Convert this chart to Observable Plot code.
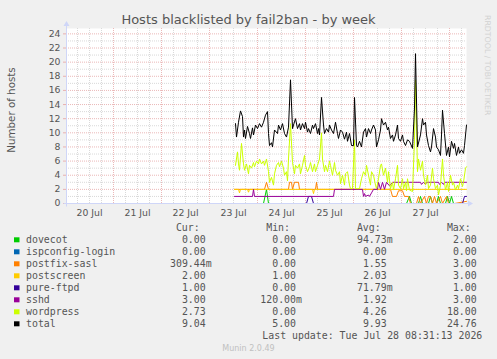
<!DOCTYPE html>
<html><head><meta charset="utf-8">
<script src="https://cdn.jsdelivr.net/npm/d3@7"></script>
<script src="https://cdn.jsdelivr.net/npm/@observablehq/plot@0.6"></script>
<style>
html,body{margin:0;padding:0;background:#f0f0f0;}
#wrap{position:relative;width:497px;height:359px;background:#f0f0f0;overflow:hidden;}
#wrap svg{position:absolute;left:0;top:0;}
g[aria-label="y-axis tick"]{color:#e8b0b0;}
</style></head>
<body><div id="wrap"></div>
<script>
const chartTitle = "Hosts blacklisted by fail2ban - by week";
const yLabel = "Number of hosts";
const sideText = "RRDTOOL / TOBI OETIKER";
const lastUpdate = "Last update: Tue Jul 28 08:31:13 2026";
const versionText = "Munin 2.0.49";

const xDomain = [new Date("2026-07-20T00:30:00Z"), new Date("2026-07-28T08:30:00Z")];
const yMax = 24.76;
const dataOrigin = new Date("2026-07-23T12:30:00Z"); // hour offsets below are relative to this
const xTickDays = ["2026-07-20T12:00:00Z","2026-07-21T12:00:00Z","2026-07-22T12:00:00Z","2026-07-23T12:00:00Z","2026-07-24T12:00:00Z","2026-07-25T12:00:00Z","2026-07-26T12:00:00Z","2026-07-27T12:00:00Z"];
const xTickLabels = ["20 Jul","21 Jul","22 Jul","23 Jul","24 Jul","25 Jul","26 Jul","27 Jul"];
const yTicks = [0,2,4,6,8,10,12,14,16,18,20,22,24];

const seriesNames = ["dovecot","ispconfig-login","postfix-sasl","postscreen","pure-ftpd","sshd","wordpress","total"];
const seriesColors = ["#00cc00","#0066b3","#ff8000","#ffcc00","#330099","#990099","#ccff00","#000000"];
const legendCur = ["0.00","0.00","309.44m","2.00","1.00","3.00","2.73","9.04"];
const legendMin = ["0.00","0.00","0.00","1.00","0.00","120.00m","0.00","5.00"];
const legendAvg = ["94.73m","0.00","1.55","2.03","71.79m","1.92","4.26","9.93"];
const legendMax = ["2.00","0.00","3.00","3.00","1.00","3.00","18.00","24.76"];
const legendHeads = ["Cur:","Min:","Avg:","Max:"];

// [hours after dataOrigin, value]
const dovecot = [[0,0],[14.5,0],[16,2],[17,0],[86,0],[87.5,1],[88.5,0],[92,0],[93,1],[94,0],[97,0],[98,1],[99,0],[101,0],[102,1],[103,0],[105.5,0],[106.5,1],[107.5,0],[108.5,1],[109.5,0],[116,0]];
const ispconfigLogin = [[0,0],[116,0]];
const postfixSasl = [[0,2],[15,2],[16,3],[17,2],[27,2],[27.5,3],[28.5,3],[29,2],[30,3],[32,3],[32.5,2],[40.5,2],[41,3],[41.5,2],[78,2],[79,1],[81,1],[82,1.8],[84,1.8],[85,1],[87,1],[88,0],[91,0],[92,1],[93,0],[95,1],[96,0],[97,1],[98,1],[99,0],[100,1],[101,0],[103,1],[104,0],[106,1],[107,0],[110,0],[116,0.3]];
const postscreen = [[0,2],[2,2],[2.5,1.5],[3,2],[6.5,2],[7,1.6],[7.5,2],[39,2],[39.5,1.4],[40,2],[116,2]];
const pureFtpd = [[0,0],[36,0],[37,1],[38.5,1],[39.5,0],[114,0],[115,1],[116,1]];
const sshd = [[0,1],[9,1],[9.5,2],[10,1],[49.5,1],[50,2],[64,2],[64.5,1],[65,1.4],[65.5,1],[67,1.2],[67.5,1],[68.5,1.5],[69.5,2],[71.5,2],[72,3],[73,2],[74,3],[75,2],[76,3],[77.5,2.5],[79,3],[93,3],[93.5,2.7],[94.5,3],[95.5,2.7],[96,3],[102,3],[102.5,2.7],[103.5,3],[104.5,2.7],[105,3],[116,3]];
const wordpress = [[0.5,5.4],[1.5,7.3],[2,5.6],[2.5,4.7],[3.5,8.5],[4.5,5.6],[5,4.7],[6,5.6],[7,4.2],[7.5,5.4],[8.5,5.0],[9.5,5.8],[10,5.2],[11,6.0],[12,5.6],[12.5,6.3],[13.5,5.6],[14.5,6.0],[15,5.4],[16,6.3],[17,4.5],[17.5,3.0],[18.5,3.7],[19.5,2.6],[20,4.2],[21,5.4],[22,5.8],[22.5,5.2],[23.5,6.0],[24.5,5.0],[25,4.0],[26,4.5],[26.5,3.2],[27,6.3],[28,11.3],[29,5.8],[30,4.2],[30.5,5.4],[31.5,5.0],[32.5,5.6],[33,4.2],[34,5.4],[35,6.8],[35.5,5.4],[36.5,4.5],[37.5,5.2],[38,5.8],[39,4.5],[40,5.6],[40.5,4.5],[41.5,5.4],[42.5,6.3],[43.5,10],[44,6.3],[45,4.5],[45.5,5.4],[46.5,4.5],[47.5,6.0],[48,5.4],[49,4.0],[50,5.8],[50.5,4.7],[51.5,4.0],[52.5,4.5],[53,2.8],[54,4.0],[55,2.6],[55.5,4.2],[56.5,4.5],[57.5,2.6],[58,2.1],[59,2.1],[60,9],[60.5,2.1],[61.5,2.1],[62.5,2.1],[63.5,3.5],[64.5,4.5],[65.5,4.0],[66,5.4],[67,4.0],[68,2.6],[68.5,4.5],[69.5,4.0],[70.5,2.6],[71,2.1],[72,3.5],[73,5.4],[73.5,5.6],[74.5,4.0],[75.5,5.0],[76.5,3.0],[77,4.5],[78,2.1],[79,3.0],[79.5,1.9],[80.5,3.5],[81.5,5.4],[82,2.6],[83,2.1],[84,3.5],[84.5,2.1],[85.5,3.0],[86,1.8],[86.5,3.5],[87.5,1.9],[89,1.7],[90,9],[90.5,17.5],[91.5,4.5],[92,6.3],[93,4.7],[94,6.0],[94.5,4.0],[95.5,2.6],[96.5,4.0],[97,2.1],[98,2.6],[99,5.0],[99.5,3.5],[100.5,2.1],[101.5,2.6],[102,1.2],[103,2.6],[104,6.3],[104.5,4.0],[105.5,1.9],[106.5,3.0],[107,1.7],[108,4.0],[109,2.6],[109.5,3.0],[110.5,1.9],[111.5,2.6],[112,2.1],[113,3.5],[114,2.4],[114.5,3.0],[115.5,5.0],[116,5.2]];
const total = [[0.5,11.3],[1,9.4],[2,11.5],[3,13.1],[4,12.3],[4.5,9.4],[5,10.4],[5.5,9.2],[6.5,10.9],[7.5,9.9],[8,9.2],[9,10.7],[9.5,9.7],[10.5,11.1],[11.5,10.6],[12.5,11.3],[13.5,10.8],[14.5,11.5],[15.5,12.5],[16.5,13],[17,9.9],[17.5,8.2],[18.5,8.6],[19,8],[20,10.4],[21.5,9.9],[22,11.1],[23,10.4],[24,11.3],[25,9.9],[26,9.4],[27,10.8],[28,17.5],[29,10.6],[29.5,11.1],[30.5,12],[31.5,10.6],[32.5,11.3],[33,10.4],[34,11.3],[35,10.6],[35.5,11.5],[36.5,10.1],[37,10.6],[38,9.9],[39,11.1],[39.5,10.6],[40.5,11.3],[41.5,9.9],[42,10.6],[42.5,9.7],[43.5,15],[44.5,11.1],[45,9.9],[46,10.6],[47,10.1],[47.5,11.1],[48.5,10.4],[49.5,9.9],[50.5,11.5],[51.5,9.9],[52,9.2],[53,10.4],[54,10.1],[55,9.1],[56,10.1],[56.5,8.8],[57.5,9.9],[58.5,8.2],[59.5,8.2],[60,15],[61,8.2],[61.5,8],[62.5,8.8],[63.5,8],[64.5,10.1],[65.5,10.6],[66,9.4],[67,10.6],[68,9.9],[68.5,10.4],[69.5,11.1],[70.5,10.4],[71,8],[72,9],[73,10.4],[73.5,12],[74.5,11.1],[75.5,11.5],[76.5,10.4],[77,10.8],[78,9.2],[79,9.7],[79.5,8.8],[80.5,9.7],[81.5,11.1],[82,9.2],[83,8.8],[84,9.7],[84.5,8.8],[85.5,8.2],[86.5,9],[87.5,8.8],[89,7.8],[90,13.5],[90.5,21.2],[91.5,8],[93,9.7],[94,12],[94.5,11.1],[95.5,11.5],[96,9.7],[97,8.2],[98,7.3],[98.5,8],[99.5,10.6],[100.5,9.4],[101,8],[102,7.6],[103,6.8],[103.5,9.7],[104,13.2],[105,9.9],[106,6.8],[107,8],[107.5,6.6],[108.5,8.8],[109.5,7.8],[110,8.5],[111,6.8],[112,8],[112.5,7.1],[113.5,7.6],[114.5,7.1],[115,8.2],[116,11.1]];

const seriesData = [dovecot, ispconfigLogin, postfixSasl, postscreen, pureFtpd, sshd, wordpress, total];

const toRows = (pairs) => pairs.map(([h, v]) => ({time: new Date(+dataOrigin + h * 3600e3), value: v}));
const xTicks = xTickDays.map(d => new Date(d));
const majorX = d3.utcDay.range(xDomain[0], xDomain[1]);
const minorX = d3.utcHour.every(6).range(xDomain[0], xDomain[1]).filter(d => d.getUTCHours() !== 0);
const majorY = yTicks.filter(v => v > 0);
const minorY = d3.range(1, 25, 2);

const gridMinor = "#d9d9d9", gridMajor = "#ebb8b8";

const plot = Plot.plot({
  width: 497, height: 223,
  marginLeft: 66, marginRight: 31, marginTop: 28, marginBottom: 20,
  style: {background: "transparent", fontFamily: "'DejaVu Sans', sans-serif", fontSize: "9.3px", color: "#555", overflow: "visible"},
  x: {type: "utc", domain: xDomain, ticks: xTicks, tickFormat: d => xTickLabels[xTicks.findIndex(t => +t === +d)], tickSize: 0, tickPadding: 6, label: null},
  y: {domain: [0, yMax], ticks: yTicks, tickFormat: d => String(d), tickSize: 3, tickPadding: 3, label: null},
  marks: [
    Plot.frame({fill: "white", stroke: "none"}),
    Plot.ruleY(minorY, {stroke: gridMinor, strokeDasharray: "1,1"}),
    Plot.ruleX(minorX, {stroke: gridMinor, strokeDasharray: "1,1"}),
    Plot.ruleY(majorY, {stroke: gridMajor, strokeDasharray: "1,1"}),
    Plot.ruleX(majorX, {stroke: gridMajor, strokeDasharray: "1,1"}),
    Plot.ruleY([0], {stroke: "#cfd6f8"}),
    Plot.ruleX([xDomain[0]], {stroke: "#cfd6f8"}),
    ...seriesData.map((s, i) => Plot.line(toRows(s), {x: "time", y: "value", stroke: seriesColors[i], strokeWidth: 1}))
  ]
});
document.getElementById("wrap").appendChild(plot);

// axis arrows
const svgP = d3.select(plot);
const xs = plot.scale("x"), ys = plot.scale("y");
const x0 = xs.apply(xDomain[0]) + 0.5, x1 = xs.apply(xDomain[1]), y0 = ys.apply(0) + 0.5, yTop = ys.apply(yMax);
const axisCol = "#cfd6f8";
svgP.append("line").attr("x1", x0).attr("x2", x0).attr("y1", y0 + 3).attr("y2", yTop - 2).attr("stroke", axisCol);
svgP.append("path").attr("d", `M${x0-3},${yTop-2}L${x0+3},${yTop-2}L${x0},${yTop-7}Z`).attr("fill", axisCol);
svgP.append("line").attr("x1", x0 - 3).attr("x2", x1 + 2).attr("y1", y0).attr("y2", y0).attr("stroke", axisCol);
svgP.append("path").attr("d", `M${x1+2},${y0-3}L${x1+2},${y0+3}L${x1+7},${y0}Z`).attr("fill", axisCol);

// overlay texts and legend
const ov = d3.select("#wrap").append("svg").attr("width", 497).attr("height", 359);
ov.append("text").attr("x", 248.5).attr("y", 23.5).attr("text-anchor", "middle")
  .attr("font-family", "DejaVu Sans").attr("font-size", 13).attr("fill", "#555").text(chartTitle);
ov.append("text").attr("transform", "translate(15,110) rotate(-90)").attr("text-anchor", "middle")
  .attr("font-family", "DejaVu Sans").attr("font-size", 10.3).attr("fill", "#555").text(yLabel);
ov.append("text").attr("transform", "translate(484.5,15) rotate(90)")
  .attr("font-family", "DejaVu Sans").attr("font-size", 7.8).attr("fill", "#d2d2d2").text(sideText);

const mono = "DejaVu Sans Mono";
const fs = 9.9;
const colEnds = [205.7, 296, 386.7, 476.7];
const headY = 231.3, rowY0 = 243.3, rowStep = 12;
legendHeads.forEach((h, j) => {
  ov.append("text").attr("x", colEnds[j] - 6).attr("y", headY).attr("text-anchor", "end")
    .attr("font-family", mono).attr("font-size", fs).attr("fill", "#555").text(h);
});
const cols = [legendCur, legendMin, legendAvg, legendMax];
seriesNames.forEach((name, i) => {
  const y = rowY0 + i * rowStep;
  ov.append("rect").attr("x", 14).attr("y", y - 6).attr("width", 5.5).attr("height", 5).attr("fill", seriesColors[i]);
  ov.append("text").attr("x", 26).attr("y", y).attr("font-family", mono).attr("font-size", fs).attr("fill", "#555").text(name);
  cols.forEach((col, j) => {
    const s = col[i];
    const hasM = s.endsWith("m");
    const num = hasM ? s.slice(0, -1) : s;
    ov.append("text").attr("x", colEnds[j]).attr("y", y).attr("text-anchor", "end")
      .attr("font-family", mono).attr("font-size", fs).attr("fill", "#555").text(num);
    if (hasM) ov.append("text").attr("x", colEnds[j]).attr("y", y)
      .attr("font-family", mono).attr("font-size", fs).attr("fill", "#555").text("m");
  });
});
ov.append("text").attr("x", 482.3).attr("y", rowY0 + 8 * rowStep).attr("text-anchor", "end")
  .attr("font-family", mono).attr("font-size", fs).attr("fill", "#555").text(lastUpdate);
ov.append("text").attr("x", 248.5).attr("y", 350.5).attr("text-anchor", "middle")
  .attr("font-family", "DejaVu Sans").attr("font-size", 8).attr("fill", "#c0c0c0").text(versionText);
</script>
</body></html>
